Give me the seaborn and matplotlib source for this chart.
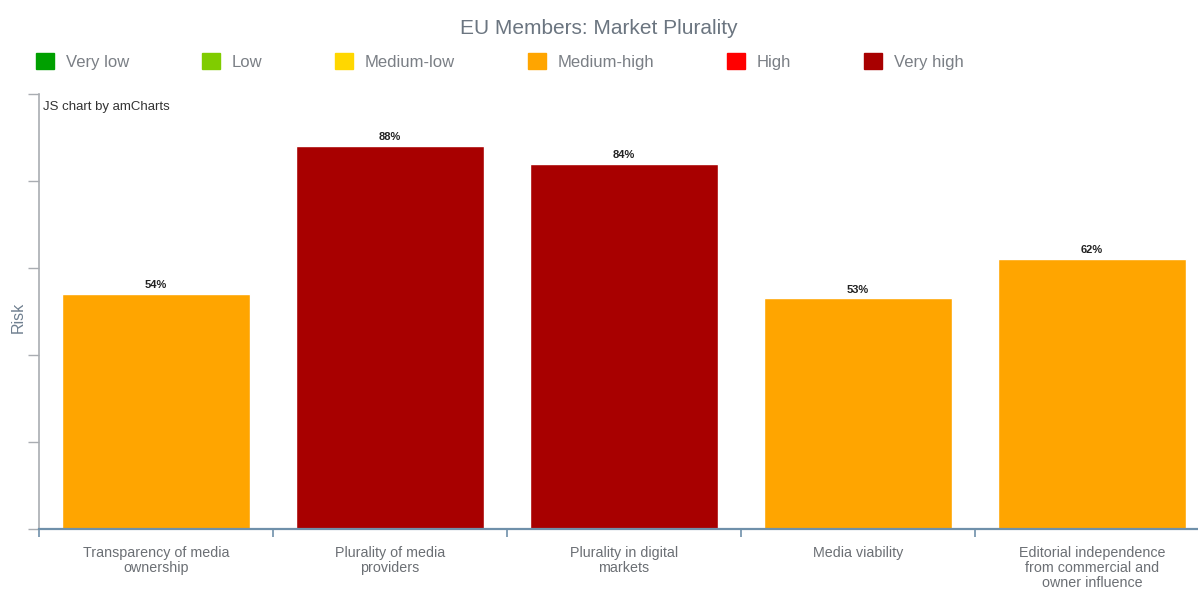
import matplotlib
matplotlib.use("Agg")
import matplotlib.pyplot as plt
from matplotlib.patches import Patch
import seaborn as sns
import pandas as pd

# Market plurality indicators and their risk scores (%)
categories = [
    "Transparency of media\nownership",
    "Plurality of media\nproviders",
    "Plurality in digital\nmarkets",
    "Media viability",
    "Editorial independence\nfrom commercial and\nowner influence",
]
risk_values = [54, 88, 84, 53, 62]
risk_levels = ["Medium-high", "Very high", "Very high", "Medium-high", "Medium-high"]

level_names = ["Very low", "Low", "Medium-low", "Medium-high", "High", "Very high"]
level_colors = ["#00a000", "#80cc00", "#ffd700", "#ffa500", "#ff0000", "#a80000"]

sns.set_style("white")
plt.rcParams["font.family"] = ["Liberation Sans", "DejaVu Sans"]

df = pd.DataFrame({"indicator": categories, "risk": risk_values, "level": risk_levels})
palette = dict(zip(level_names, level_colors))

fig = plt.figure(figsize=(11.98, 5.89), dpi=100)
ax = fig.add_axes([39 / 1198, 60 / 589, 1170 / 1198, 435 / 589])

sns.barplot(data=df, x="indicator", y="risk", hue="level", palette=palette,
            dodge=False, width=0.8, legend=False, ax=ax, saturation=1)

for i, v in enumerate(risk_values):
    ax.text(i, v + 0.9, f"{v}%", ha="center", va="bottom",
            fontsize=8, fontweight="bold", color="#222222")

ax.set_xlim(-0.5, len(categories) - 0.5)
ax.set_ylim(0, 100)

# y axis: unlabelled ticks every 20
ax.set_yticks(range(0, 101, 20))
ax.set_yticklabels([])
ax.tick_params(axis="y", direction="out", length=8, width=1, color="#a9adb2", left=True)
ax.set_ylabel("")
fig.text(18 / 1198, 1 - 317 / 589, "Risk", rotation=90, ha="center", va="center",
         fontsize=11.5, color="#6f7f8f")

# x axis: labels at centers, ticks on category boundaries
ax.set_xticks(range(len(categories)))
ax.set_xticklabels(categories, fontsize=10.3, color="#6b6f74", linespacing=1.12)
ax.tick_params(axis="x", which="major", length=0, pad=12)
ax.set_xticks([i - 0.5 for i in range(len(categories) + 1)], minor=True)
ax.tick_params(axis="x", which="minor", direction="out", length=6, width=1.2,
               color="#6f90aa", bottom=True)
ax.set_xlabel("")

for side in ["top", "right"]:
    ax.spines[side].set_visible(False)
ax.spines["left"].set_color("#a9adb2")
ax.spines["left"].set_linewidth(1.2)
ax.spines["bottom"].set_color("#6f90aa")
ax.spines["bottom"].set_linewidth(1.6)

ax.text(0.003, 0.985, "JS chart by amCharts", transform=ax.transAxes,
        ha="left", va="top", fontsize=9.5, color="#333333")

fig.text(599 / 1198, 1 - 28 / 589, "EU Members: Market Plurality",
         ha="center", va="center", fontsize=15, color="#6b7580")

handles = [Patch(facecolor=c, edgecolor=c, label=n) for n, c in zip(level_names, level_colors)]
fig.legend(handles=handles, loc="upper left", bbox_to_anchor=(36 / 1198, 1 - 53 / 589),
           ncol=6, frameon=False, fontsize=12, labelcolor="#7a7f85",
           handlelength=1.1, handleheight=1.1, handletextpad=0.7,
           columnspacing=4.35, borderpad=0, borderaxespad=0)

fig.savefig("out.png", dpi=100, facecolor="white")
